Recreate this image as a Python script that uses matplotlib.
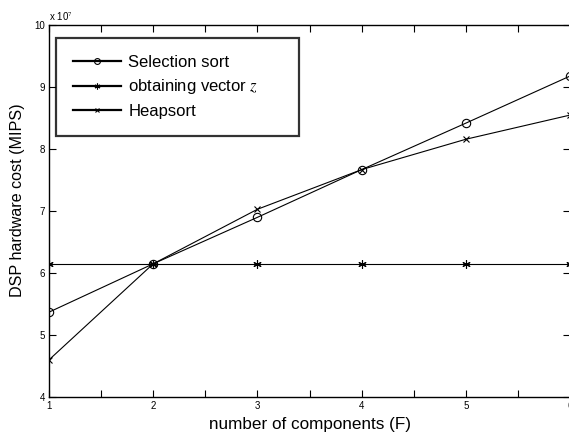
import numpy as np
import matplotlib.pyplot as plt

plt.rcParams['font.family'] = ['Liberation Sans', 'DejaVu Sans']
plt.rcParams['mathtext.fontset'] = 'stix'

# data (values in units of 1e7)
F = [1, 2, 3, 4, 5, 6]
selection_sort = [5.37, 6.15, 6.90, 7.67, 8.42, 9.18]
vector_z = [6.15, 6.15, 6.15, 6.15, 6.15, 6.15]
heapsort = [4.60, 6.15, 7.03, 7.67, 8.16, 8.55]

fig = plt.figure(figsize=(5.69, 4.34), dpi=100)
ax = fig.add_axes([0.086, 0.085, 0.916, 0.857])

scale = 1e7
ax.plot(F, np.array(selection_sort) * scale, color='black', lw=0.8, marker='o',
        mfc='none', ms=6, mew=0.8, label='Selection sort')
ax.plot(F, np.array(vector_z) * scale, color='black', lw=0.8, marker=(6, 2, 0),
        ms=6, mew=0.8, label='obtaining vector $z$')
ax.plot(F, np.array(heapsort) * scale, color='black', lw=0.8, marker='x',
        ms=5, mew=0.8, label='Heapsort')

ax.set_xlim(1, 6)
ax.set_ylim(4e7, 10e7)
ax.set_xticks([1, 2, 3, 4, 5, 6])
ax.set_xticks(np.arange(1, 6.01, 0.5), minor=True)
ax.set_yticks(np.arange(4, 10.1, 1) * scale)
ax.set_yticklabels([str(v) for v in range(4, 11)])
ax.tick_params(which='both', direction='in', top=True, right=True, labelsize=7,
               width=0.8, pad=3)
ax.tick_params(which='major', length=5)
ax.tick_params(which='minor', length=5)
for s in ax.spines.values():
    s.set_linewidth(1.0)

ax.text(0.0, 1.005, r'x 10$^{7}$', transform=ax.transAxes, fontsize=7,
        ha='left', va='bottom', fontfamily='Liberation Sans')

ax.set_xlabel('number of components (F)', fontsize=12.3, labelpad=4)
ax.set_ylabel('DSP hardware cost (MIPS)', fontsize=11.6)
ax.yaxis.set_label_coords(-0.045, 0.53)

leg = ax.legend(loc='upper left', bbox_to_anchor=(0.0134, 0.707, 0.466, 0.258),
                mode='expand', fontsize=12, markerscale=0.7,
                frameon=True, fancybox=False, edgecolor='black',
                handlelength=2.9, borderpad=1.0, labelspacing=0.45,
                handletextpad=0.45, borderaxespad=0)
leg.get_frame().set_linewidth(1.6)
for h in leg.get_lines():
    h.set_linewidth(1.6)

fig.savefig('out.png', dpi=100)
